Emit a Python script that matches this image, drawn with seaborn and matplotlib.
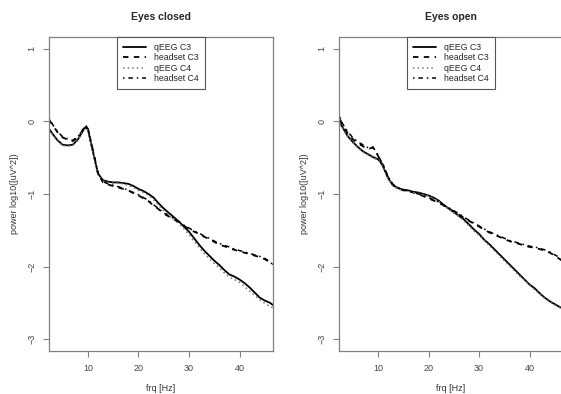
import pandas as pd
import seaborn as sns
import matplotlib.pyplot as plt

# frequency grids (Hz)
frq_closed = [2.3, 3, 4, 5, 6, 7, 8, 9, 9.5, 10, 11, 12, 13, 14, 15, 16, 17, 18, 19, 20,
              21, 22, 23, 24, 25, 26, 27, 28, 29, 30, 31, 32, 33, 34, 35, 36, 37, 38,
              39, 40, 41, 42, 43, 44, 45, 46, 46.6]
frq_open = [2.5, 3, 4, 5, 6, 7, 8, 9, 10, 10.5, 11, 12, 13, 14, 15, 16, 17, 18, 19, 20,
            21, 22, 23, 24, 25, 26, 27, 28, 29, 30, 31, 32, 33, 34, 35, 36, 37, 38,
            39, 40, 41, 42, 43, 44, 45, 46, 46.6]

# Eyes closed, log10 power
closed_qeeg_c3 = [-0.10, -0.17, -0.26, -0.32, -0.33, -0.32, -0.25, -0.13, -0.08, -0.11, -0.42, -0.72, -0.81,
                  -0.83, -0.84, -0.84, -0.85, -0.86, -0.89, -0.93, -0.96, -1.00, -1.05, -1.13, -1.20,
                  -1.26, -1.32, -1.38, -1.45, -1.52, -1.61, -1.70, -1.78, -1.85, -1.92, -1.98, -2.05,
                  -2.11, -2.14, -2.18, -2.23, -2.29, -2.36, -2.43, -2.47, -2.50, -2.53]
closed_headset_c3 = [0.03, -0.05, -0.15, -0.22, -0.25, -0.27, -0.22, -0.12, -0.06, -0.10, -0.40, -0.72, -0.84,
                     -0.87, -0.89, -0.91, -0.93, -0.95, -0.99, -1.02, -1.06, -1.10, -1.16, -1.21, -1.27,
                     -1.31, -1.35, -1.39, -1.44, -1.48, -1.52, -1.55, -1.59, -1.62, -1.66, -1.70, -1.72,
                     -1.75, -1.77, -1.79, -1.81, -1.83, -1.85, -1.87, -1.90, -1.94, -1.97]
closed_qeeg_c4 = [-0.11, -0.18, -0.27, -0.33, -0.34, -0.33, -0.26, -0.14, -0.09, -0.12, -0.43, -0.73, -0.82,
                  -0.84, -0.85, -0.85, -0.86, -0.88, -0.91, -0.95, -0.98, -1.02, -1.08, -1.16, -1.23,
                  -1.29, -1.35, -1.41, -1.48, -1.56, -1.65, -1.74, -1.82, -1.89, -1.96, -2.02, -2.09,
                  -2.15, -2.18, -2.22, -2.28, -2.34, -2.40, -2.46, -2.51, -2.55, -2.57]
closed_headset_c4 = [0.05, -0.04, -0.14, -0.21, -0.24, -0.26, -0.21, -0.11, -0.05, -0.09, -0.40, -0.71, -0.83,
                     -0.86, -0.88, -0.90, -0.92, -0.95, -0.98, -1.01, -1.05, -1.09, -1.15, -1.20, -1.26,
                     -1.30, -1.34, -1.38, -1.43, -1.47, -1.51, -1.54, -1.58, -1.61, -1.65, -1.68, -1.71,
                     -1.73, -1.76, -1.78, -1.80, -1.82, -1.84, -1.86, -1.89, -1.93, -1.98]

# Eyes open, log10 power
open_qeeg_c3 = [-0.02, -0.08, -0.20, -0.28, -0.35, -0.41, -0.45, -0.49, -0.52, -0.56, -0.62, -0.78, -0.88,
                -0.92, -0.94, -0.95, -0.97, -0.98, -1.00, -1.02, -1.05, -1.09, -1.15, -1.20, -1.25,
                -1.30, -1.35, -1.42, -1.49, -1.55, -1.63, -1.69, -1.76, -1.83, -1.90, -1.97, -2.04,
                -2.11, -2.18, -2.25, -2.30, -2.37, -2.43, -2.48, -2.52, -2.56, -2.58]
open_headset_c3 = [0.03, -0.05, -0.16, -0.24, -0.30, -0.34, -0.38, -0.36, -0.47, -0.54, -0.60, -0.77, -0.88,
                   -0.92, -0.95, -0.96, -0.98, -1.00, -1.03, -1.06, -1.09, -1.12, -1.16, -1.20, -1.24,
                   -1.28, -1.33, -1.37, -1.41, -1.45, -1.49, -1.53, -1.56, -1.59, -1.62, -1.65, -1.67,
                   -1.69, -1.71, -1.73, -1.74, -1.76, -1.78, -1.81, -1.85, -1.90, -1.93]
open_qeeg_c4 = [-0.03, -0.09, -0.21, -0.29, -0.36, -0.42, -0.46, -0.50, -0.53, -0.57, -0.63, -0.79, -0.89,
                -0.93, -0.95, -0.96, -0.98, -0.99, -1.01, -1.03, -1.06, -1.10, -1.16, -1.21, -1.26,
                -1.31, -1.37, -1.44, -1.51, -1.57, -1.64, -1.71, -1.78, -1.85, -1.92, -1.99, -2.06,
                -2.13, -2.19, -2.26, -2.32, -2.38, -2.44, -2.49, -2.53, -2.57, -2.59]
open_headset_c4 = [0.06, -0.03, -0.14, -0.22, -0.28, -0.32, -0.36, -0.35, -0.46, -0.53, -0.59, -0.76, -0.87,
                   -0.91, -0.94, -0.96, -0.98, -1.00, -1.02, -1.05, -1.08, -1.11, -1.15, -1.19, -1.23,
                   -1.27, -1.32, -1.36, -1.40, -1.44, -1.48, -1.52, -1.55, -1.58, -1.61, -1.64, -1.66,
                   -1.68, -1.70, -1.72, -1.73, -1.75, -1.77, -1.80, -1.84, -1.88, -1.92]

series_names = ["qEEG C3", "headset C3", "qEEG C4", "headset C4"]
x_ticks = [10, 20, 30, 40]
y_ticks = [-3, -2, -1, 0, 1]
titles = ["Eyes closed", "Eyes open"]

sns.set_style("ticks")
plt.rcParams['font.family'] = ['Liberation Sans', 'DejaVu Sans']

styles = {
    "qEEG C3": dict(color="black", lw=1.3, ls="-"),
    "headset C3": dict(color="black", lw=1.3, ls=(0, (3, 3))),
    "qEEG C4": dict(color="#777777", lw=1.1, ls=(0, (1, 2))),
    "headset C4": dict(color="black", lw=1.1, ls=(0, (1, 2.5, 3, 2.5))),
}

panels = [
    (frq_closed, [closed_qeeg_c3, closed_headset_c3, closed_qeeg_c4, closed_headset_c4]),
    (frq_open, [open_qeeg_c3, open_headset_c3, open_qeeg_c4, open_headset_c4]),
]

fig = plt.figure(figsize=(5.61, 3.94), dpi=100)
ax_pos = [[0.0873, 0.1091, 0.3993, 0.797], [0.6043, 0.1091, 0.3993, 0.797]]
spine_col = "#808080"

for i, (frq, vals) in enumerate(panels):
    ax = fig.add_axes(ax_pos[i])
    for name, v in zip(series_names, vals):
        df = pd.DataFrame({"frq": frq, "power": v})
        sns.lineplot(data=df, x="frq", y="power", ax=ax, label=name, **styles[name])
    ax.set_xlim(2.3, 46.6)
    ax.set_ylim(-3.165, 1.165)
    ax.set_xticks(x_ticks)
    ax.set_yticks(y_ticks)
    ax.set_yticklabels([str(t).replace("-", "\u2212") for t in y_ticks], rotation=90, va="center")
    ax.tick_params(axis="both", labelsize=6.5, colors=spine_col, labelcolor="#444444",
                   length=4, width=0.8, pad=5)
    for s in ax.spines.values():
        s.set_color(spine_col)
        s.set_linewidth(0.9)
    ax.set_xlabel("frq [Hz]", fontsize=6.5, color="#333333", labelpad=8)
    ax.set_ylabel("power log10([uV^2])", fontsize=6.5, color="#333333", labelpad=6)
    ax.set_title(titles[i], fontsize=7.5, fontweight="bold", pad=12)
    leg = ax.legend(loc="upper center", fontsize=6.3, fancybox=False, framealpha=1,
                    edgecolor="#555555", handlelength=2.6, borderpad=0.7,
                    labelspacing=0.15, handletextpad=0.9, borderaxespad=0)
    leg.get_frame().set_linewidth(0.8)

fig.savefig("out.png", dpi=100)
